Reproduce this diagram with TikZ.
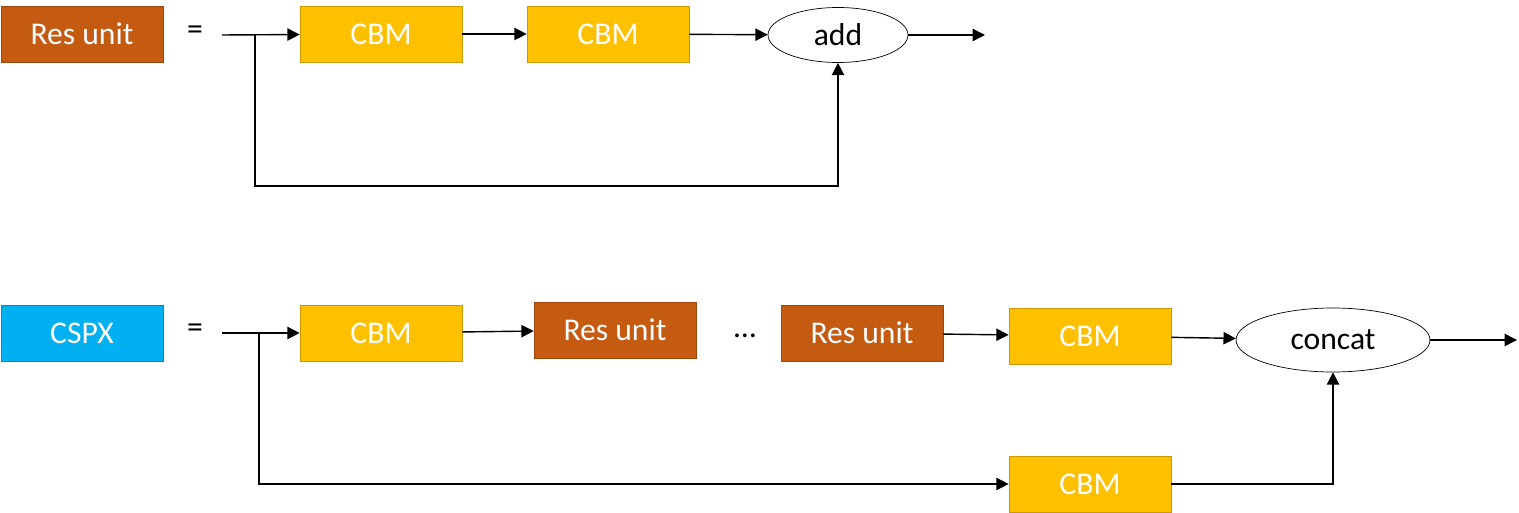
\documentclass[tikz,border=0pt]{standalone}
\usepackage{fontspec}
\setmainfont{Carlito}
\usetikzlibrary{arrows.meta,shapes.geometric,positioning}
\definecolor{resbrown}{HTML}{C55A11}
\definecolor{cbmyellow}{HTML}{FFC000}
\definecolor{cspxblue}{HTML}{00B0F0}
\begin{document}
\begin{tikzpicture}[
    x = 0.02cm, y = -0.02cm, % pixel grid
    > = {Triangle[length=7pt,width=7pt]},
    font = \fontsize{18}{20}\selectfont,
    thick
    ]

    \tikzset{
    block/.style = {draw = #1!80!black, fill = #1, text = white, thin,
        minimum width = 3.24cm, minimum height = 1.12cm, inner sep = 0pt},
    op/.style = {draw, ellipse, thin, inner sep = 0pt}
    }
    \useasboundingbox (0,0) rectangle (1519,513);

    % Res unit
    \node[block=resbrown] (res) at (82,34) {Res unit};
    \node (eq1) at (195,33) {=};
    \coordinate (in1) at (222,35);
    \node[block=cbmyellow] (c1) at (381,34) {CBM};
    \node[block=cbmyellow] (c2) at (608,34) {CBM};
    \node[op, minimum width = 2.8cm, minimum height = 1.1cm] (add) at (838,35) {add};
    \coordinate (out1) at (985,35);
    \coordinate (sp1) at (255,35);

    \draw[->] (in1) -- (c1);
    \draw[->] (c1) -- (c2);
    \draw[->] (c2) -- (add);
    \draw[->] (add) -- (out1);
    \draw[->] (sp1) |- (838,186) -- (add.south);

    % CSPX
    \node[block=cspxblue] (cspx) at (82,333) {CSPX};
    \node (eq2) at (195,331) {=};
    \coordinate (in2) at (222,333);
    \node[block=cbmyellow] (c3) at (381,333) {CBM};
    \node[block=resbrown] (r1) at (615,330) {Res unit};
    \node (dots) at (745,336) {\dots};
    \node[block=resbrown] (r2) at (862,333) {Res unit};
    \node[block=cbmyellow] (c4) at (1090,336) {CBM};
    \node[op, minimum width = 3.88cm, minimum height = 1.28cm] (cat) at (1333,340) {concat};
    \coordinate (out2) at (1517,340);
    \node[block=cbmyellow] (c5) at (1090,484) {CBM};
    \coordinate (sp2) at (259,333);

    \draw[->] (in2) -- (c3);
    \draw[->] (c3) -- (r1);
    \draw[->] (r2) -- (c4);
    \draw[->] (c4) -- (cat);
    \draw[->] (cat) -- (out2);
    \draw[->] (sp2) |- (c5);
    \draw[->] (c5) -| (cat.south);
\end{tikzpicture}
\end{document}
